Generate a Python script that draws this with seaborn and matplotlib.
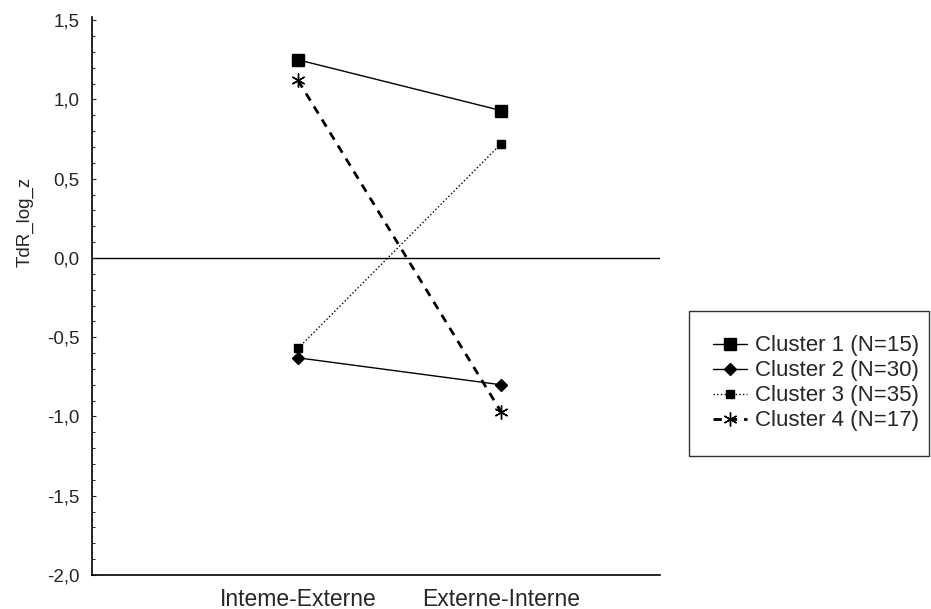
import matplotlib
matplotlib.use("Agg")
import matplotlib.pyplot as plt
import seaborn as sns
import pandas as pd
from matplotlib.ticker import MultipleLocator, FuncFormatter

sns.set_style("white")
plt.rcParams["font.family"] = ["Liberation Sans", "DejaVu Sans"]

conditions = ["Inteme-Externe", "Externe-Interne"]
clusters = ["Cluster 1 (N=15)", "Cluster 2 (N=30)", "Cluster 3 (N=35)", "Cluster 4 (N=17)"]
cluster1 = [1.25, 0.93]
cluster2 = [-0.63, -0.80]
cluster3 = [-0.57, 0.72]
cluster4 = [1.12, -0.97]

rows = []
for name, vals in zip(clusters, [cluster1, cluster2, cluster3, cluster4]):
    for i, v in enumerate(vals):
        rows.append({"pos": i, "cond": conditions[i], "cluster": name, "value": v})
df = pd.DataFrame(rows)

styles = {
    clusters[0]: dict(marker="s", markersize=8, linestyle="-", linewidth=1.0),
    clusters[1]: dict(marker="D", markersize=6, linestyle="-", linewidth=1.0),
    clusters[2]: dict(marker="s", markersize=6, linestyle=":", linewidth=1.0),
    clusters[3]: dict(marker=(6, 2, 0), markersize=10, linestyle=(0, (3, 2.5)), linewidth=2.0),
}

fig = plt.figure(figsize=(9.31, 6.09), dpi=100)
ax = fig.add_axes([92 / 931, 1 - 575 / 609, (660 - 92) / 931, (575 - 17) / 609])

for name in clusters:
    sub = df[df["cluster"] == name]
    st = styles[name]
    sns.lineplot(data=sub, x="pos", y="value", ax=ax, color="black", label=name,
                 marker=st["marker"], markersize=st["markersize"],
                 markeredgecolor="black", markerfacecolor="black", markeredgewidth=1.0,
                 linestyle=st["linestyle"], linewidth=st["linewidth"])

ax.axhline(0, color="black", linewidth=1.0, zorder=0)

ax.set_xlim(-1.015, 1.783)
ax.set_ylim(-2.0, 1.52)
ax.set_xticks([0, 1])
ax.set_xticklabels(conditions, fontsize=16.5)
ax.tick_params(axis="x", length=0, pad=9)
ax.yaxis.set_major_locator(MultipleLocator(0.5))
ax.yaxis.set_minor_locator(MultipleLocator(0.1))
ax.yaxis.set_major_formatter(FuncFormatter(lambda v, p: f"{v:.1f}".replace(".", ",")))
ax.tick_params(axis="y", which="major", direction="in", length=3, width=0.8, labelsize=13.5, pad=9, left=True)
ax.tick_params(axis="y", which="minor", direction="in", length=2, width=0.8, left=True)
ax.set_xlabel("")
ax.set_ylabel("TdR_log_z", fontsize=13.5)
ax.yaxis.set_label_coords(-0.102, 0.633)

for s in ["top", "right"]:
    ax.spines[s].set_visible(False)
for s in ["left", "bottom"]:
    ax.spines[s].set_color("black")
    ax.spines[s].set_linewidth(1.2)

leg = ax.legend(loc="center left", bbox_to_anchor=(689 / 931, 1 - 457 / 609, 240 / 931, 147 / 609),
                bbox_transform=fig.transFigure, mode="expand", frameon=True, fancybox=False,
                edgecolor="black", fontsize=16, handlelength=1.5, handletextpad=0.35,
                labelspacing=0.18, borderpad=1.1, borderaxespad=0, markerscale=1.0)
leg.get_frame().set_linewidth(1.0)

fig.savefig("out.png", dpi=100, facecolor="white")
